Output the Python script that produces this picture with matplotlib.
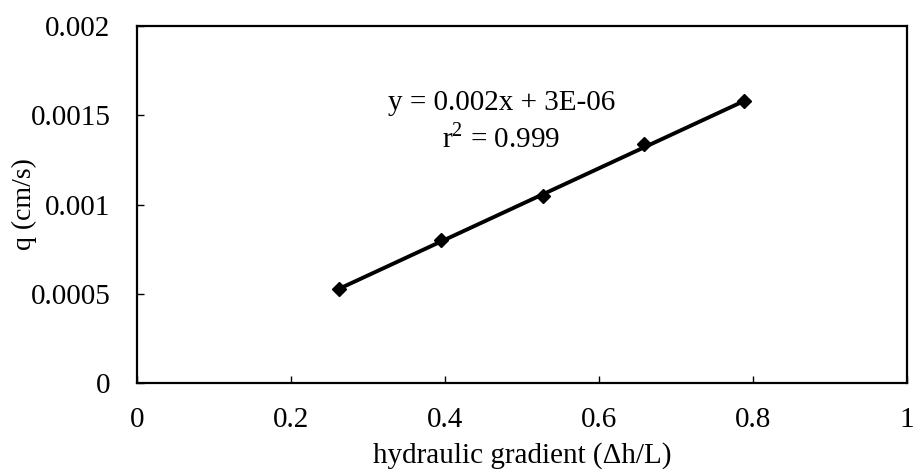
import numpy as np
import matplotlib
matplotlib.use("Agg")
import matplotlib.pyplot as plt

plt.rcParams['font.family'] = ['Liberation Serif', 'DejaVu Serif']
plt.rcParams['mathtext.fontset'] = 'custom'
plt.rcParams['mathtext.rm'] = 'Liberation Serif'

# Measured flux versus hydraulic gradient
gradient = [0.263, 0.395, 0.527, 0.658, 0.789]
flux = [0.000525, 0.000800, 0.001050, 0.001340, 0.001580]

x_ticks = [0, 0.2, 0.4, 0.6, 0.8, 1.0]
x_tick_labels = ["0", "0.2", "0.4", "0.6", "0.8", "1"]
y_ticks = [0, 0.0005, 0.001, 0.0015, 0.002]
y_tick_labels = ["0", "0.0005", "0.001", "0.0015", "0.002"]

fit_slope = 0.002
fit_intercept = 3e-06
fit_r2 = 0.999

FS = 21

fig = plt.figure(figsize=(9.13, 4.70), dpi=100)
ax = fig.add_axes([0.150, 0.185, 0.8434, 0.7597])

xs = np.array([gradient[0], gradient[-1]])
ax.plot(xs, fit_slope * xs + fit_intercept, color='black', lw=2.8, zorder=2)
ax.plot(gradient, flux, linestyle='none', marker='D', ms=7,
        color='black', zorder=3)

ax.set_xlim(0, 1)
ax.set_ylim(0, 0.002)
ax.set_xticks(x_ticks)
ax.set_xticklabels(x_tick_labels)
ax.set_yticks(y_ticks)
ax.set_yticklabels(y_tick_labels)

ax.tick_params(axis='both', direction='in', length=5, width=1, labelsize=FS)
ax.tick_params(axis='x', pad=17)
ax.tick_params(axis='y', pad=19)
for s in ax.spines.values():
    s.set_linewidth(1.6)

ax.set_xlabel("hydraulic gradient (\u0394h/L)", fontsize=FS, labelpad=7)
ax.set_ylabel("q (cm/s)", fontsize=20, labelpad=-4.5)

ax.text(0.473, 0.001569, f"y = {fit_slope:g}x + 3E-06", ha='center', va='center',
        fontsize=FS)
ax.text(0.473, 0.00137, f"r$^2$ = {fit_r2:g}", ha='center', va='center',
        fontsize=FS)

fig.savefig("out.png", dpi=100)
